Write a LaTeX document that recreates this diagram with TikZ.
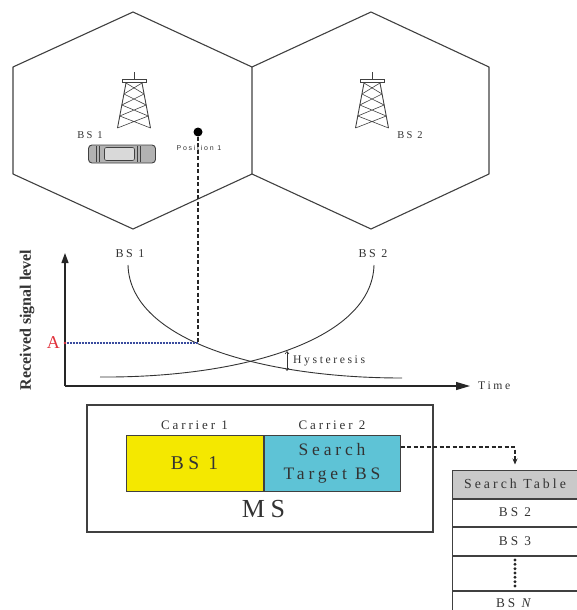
\documentclass[tikz,border=0pt]{standalone}
\usepackage{fontspec}
\setmainfont{Liberation Serif}[LetterSpace=22]
\newfontfamily\plainserif{Liberation Serif}
\newfontfamily\tinysans{Liberation Sans}[LetterSpace=25]
\usetikzlibrary{arrows.meta,positioning}
\definecolor{CarYellow}{HTML}{F4E800}
\definecolor{CarBlue}{HTML}{5EC3D6}
\definecolor{HeadGray}{HTML}{C9C9C9}
\definecolor{LineGray}{HTML}{404040}
\definecolor{TextGray}{HTML}{333333}
\definecolor{LevelBlue}{HTML}{3A4C9E}
\definecolor{MarkRed}{HTML}{E0303A}

\tikzset{
  mast/.pic={
    % antenna, platform and lattice body; base centre at the origin
    \draw[LineGray,line width=0.8pt] (0,-56) -- (0,-49);
    \draw[LineGray,line width=0.7pt,fill=white] (-12,-49) rectangle (12,-45.5);
    \draw[LineGray,line width=0.9pt] (-8,-45) -- (-16.5,0) (8,-45) -- (16.5,0);
    \foreach \ya/\yb in {-45/-34,-34/-23,-23/-12,-12/0}
      {\draw[LineGray,line width=0.6pt]
         ({-8-8.5*(\ya+45)/45},\ya) -- ({8+8.5*(\yb+45)/45},\yb)
         ({8+8.5*(\ya+45)/45},\ya) -- ({-8-8.5*(\yb+45)/45},\yb);}
  },
  car/.pic={
    \draw[LineGray,line width=0.9pt,fill=gray!60,rounded corners=3.5pt]
      (-33,-9) rectangle (34,9);
    \draw[LineGray,line width=0.6pt,fill=gray!30,rounded corners=2pt]
      (-17,-6.5) rectangle (13,6.5);
    \draw[LineGray,line width=0.6pt] (-25,-8) -- (-25,8) (-22,-8) -- (-22,8)
      (16,-8) -- (16,8) (19,-8) -- (19,8);
  }
}

\begin{document}
\begin{tikzpicture}[
  x=1pt,y=-1pt,
  hex/.style={draw=LineGray,line width=1.1pt,line join=round},
  lbl/.style={text=TextGray,inner sep=0pt},
  curve/.style={draw=black!80,line width=0.9pt},
  axis/.style={draw=black!85,line width=1.2pt},
  dashline/.style={draw=black!85,line width=1.3pt,dash pattern=on 4pt off 2.5pt},
  carrier/.style={draw=LineGray,line width=1pt,minimum width=137pt,
    minimum height=56pt,inner sep=0pt,text=TextGray,align=center,
    font=\fontsize{17.5}{24}\selectfont},
  row/.style={draw=LineGray,line width=1pt,minimum width=126pt,inner sep=0pt,
    text=TextGray,font=\fontsize{13.3}{15}\selectfont}
]
\useasboundingbox (0,0) rectangle (577,610);
\clip (0,0) rectangle (577,610);

% the two cells
\draw[hex] (133,12) -- (252,67) -- (252,174) -- (133,229) -- (13,174) -- (13,67) -- cycle;
\draw[hex] (252,67) -- (371,12) -- (489,67) -- (489,174) -- (371,229) -- (252,174);
\pic at (134,128) {mast};
\pic at (372,128) {mast};
\pic at (121.5,154) {car};
\node[lbl,font=\fontsize{10.5}{12}\selectfont] (bsone) at (90,135) {BS 1};
\node[lbl,font=\fontsize{10.5}{12}\selectfont] (bstwo) at (410,135) {BS 2};
\node[circle,fill=black,inner sep=0pt,minimum size=9pt] (pos) at (198,132) {};
\node[lbl,font=\tinysans\fontsize{7}{8}\selectfont] (poslabel) at (199,148) {Position 1};

% signal levels against time
\coordinate (origin) at (65,386);
\coordinate (ytip) at (65,253);
\coordinate (xtip) at (470,386);
\coordinate (alevel) at (65,343);
\coordinate (hit) at (198,343);
\draw[axis,-{Triangle[length=10pt,width=7pt]}] (origin) -- (ytip);
\draw[axis,-{Triangle[length=14pt,width=8pt]}] (origin) -- (xtip);
\node[lbl,right=8pt of xtip,font=\fontsize{11.7}{13}\selectfont] (time) {Time};
\node[lbl,rotate=90,font=\plainserif\bfseries\fontsize{16}{18}\selectfont] (ylabel) at (27,320) {Received signal level};

\coordinate (sone) at (128,265);
\coordinate (eone) at (402,378);
\coordinate (stwo) at (100,377);
\coordinate (etwo) at (374,265);
\draw[curve] (sone) .. controls (130,340) and (260,378) .. (eone);
\draw[curve] (stwo) .. controls (242,378) and (372,340) .. (etwo);
\node[lbl,font=\fontsize{12}{14}\selectfont] (curveone) at (130,254) {BS 1};
\node[lbl,font=\fontsize{12}{14}\selectfont] (curvetwo) at (373,254) {BS 2};

\draw[dashline] (pos) -- (hit);
\draw[LevelBlue,line width=1.3pt,dash pattern=on 1pt off 0.5pt] (alevel) -- (hit);
\fill[MarkRed] (alevel) circle (1.4pt);
\node[lbl,text=MarkRed,left=5pt of alevel,font=\plainserif\fontsize{18}{20}\selectfont] (alabel) {A};

\coordinate (hystop) at (287,351);
\coordinate (hysbot) at (287,371);
\draw[black!80,line width=0.6pt,{Straight Barb[length=2.5pt,width=4pt]}-{Straight Barb[length=2.5pt,width=4pt]}] (hystop) -- (hysbot);
\node[lbl,anchor=west,font=\fontsize{11.7}{13}\selectfont] (hys) at (293,361) {Hysteresis};

% mobile station with its two carriers
\node[draw=LineGray,line width=1.1pt,minimum width=346pt,minimum height=127pt,inner sep=0pt] (ms) at (260,468.5) {};
\node[carrier,fill=CarYellow,font=\fontsize{19.5}{24}\selectfont] (cone) at (194.5,463.5) {BS 1};
\node[carrier,fill=CarBlue,minimum width=136pt,right=0pt of cone] (ctwo) {Search\\Target BS};
\node[lbl,above=5pt of cone,font=\fontsize{13}{15}\selectfont] (conelabel) {Carrier 1};
\node[lbl,above=5pt of ctwo,font=\fontsize{13}{15}\selectfont] (ctwolabel) {Carrier 2};
\node[lbl,below=8pt of cone.south east,font=\fontsize{26}{28}\selectfont] (mslabel) {MS};

% search table
\node[row,fill=HeadGray,minimum height=28pt,font=\fontsize{13.8}{15}\selectfont] (head) at (515,484) {Search Table};
\node[row,minimum height=27pt,below=0pt of head] (rtwo) {BS 2};
\node[row,minimum height=28pt,below=0pt of rtwo] (rthree) {BS 3};
\node[row,minimum height=34pt,below=0pt of rthree] (rdots) {};
\node[row,minimum height=24pt,below=0pt of rdots] (rlast) {BS \textit{N}};
\foreach \k in {0,...,6}
  {\fill[black!85] (rdots.center) ++(0,-13+4.33*\k) circle (1.6pt);}

\coordinate (turn) at (515,447);
\draw[dashline,-{Stealth[length=6pt,width=5pt]}] (ctwo.east |- turn) -- (turn) -- ([yshift=5pt]head.north);
\end{tikzpicture}
\end{document}
